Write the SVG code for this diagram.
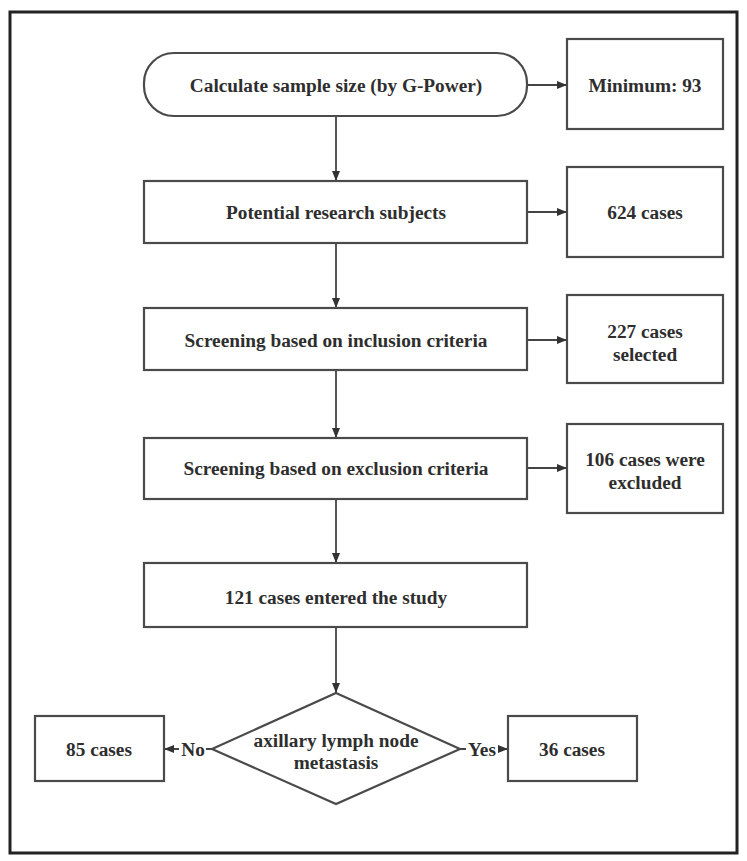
<svg xmlns="http://www.w3.org/2000/svg" width="747" height="861" viewBox="0 0 747 861">
<defs>
<marker id="ah" markerWidth="10" markerHeight="8" refX="10" refY="4" orient="auto" markerUnits="userSpaceOnUse">
<path d="M0,0 L10,4 L0,8 Z" fill="#333"/>
</marker>
<style>
.box{fill:#fff;stroke:#4a4a4a;stroke-width:2.2}
.t{font-family:'Liberation Serif','DejaVu Serif','Times New Roman',serif;font-weight:bold;font-size:19.3px;fill:#2e2e2e;text-anchor:middle;dominant-baseline:central}
.c{stroke:#444;stroke-width:1.8;fill:none;marker-end:url(#ah)}
</style>
</defs>
<rect x="0" y="0" width="747" height="861" fill="#fff"/>
<rect x="10" y="12" width="727" height="841" fill="none" stroke="#222" stroke-width="3"/>
<g id="connectors">
<line class="c" x1="527" y1="85" x2="567" y2="85"/>
<line class="c" x1="336" y1="116" x2="336" y2="181"/>
<line class="c" x1="527" y1="212" x2="567" y2="212"/>
<line class="c" x1="336" y1="243" x2="336" y2="308"/>
<line class="c" x1="527" y1="340" x2="567" y2="340"/>
<line class="c" x1="336" y1="370" x2="336" y2="438"/>
<line class="c" x1="527" y1="468" x2="567" y2="468"/>
<line class="c" x1="336" y1="499" x2="336" y2="563"/>
<line class="c" x1="336" y1="627" x2="336" y2="693"/>
<line class="c" x1="212" y1="749" x2="164" y2="749"/>
<line class="c" x1="460" y1="749" x2="508" y2="749"/>
<rect x="179" y="740" width="27" height="18" fill="#fff"/>
<text class="t" x="193" y="749">No</text>
<rect x="466" y="740" width="32" height="18" fill="#fff"/>
<text class="t" x="482" y="749">Yes</text>
</g>
<g id="start">
<rect class="box" x="144" y="53" width="383" height="63" rx="30" ry="30"/>
<text class="t" x="336" y="85">Calculate sample size (by G-Power)</text>
</g>
<g id="minimum">
<rect class="box" x="567" y="39" width="156" height="90"/>
<text class="t" x="645" y="85">Minimum: 93</text>
</g>
<g id="potential">
<rect class="box" x="144" y="181" width="383" height="62"/>
<text class="t" x="336" y="212">Potential research subjects</text>
</g>
<g id="cases624">
<rect class="box" x="567" y="167" width="156" height="90"/>
<text class="t" x="645" y="212">624 cases</text>
</g>
<g id="inclusion">
<rect class="box" x="144" y="308" width="383" height="62"/>
<text class="t" x="336" y="340">Screening based on inclusion criteria</text>
</g>
<g id="cases227">
<rect class="box" x="567" y="295" width="156" height="88"/>
<text class="t" x="645" y="331">227 cases</text>
<text class="t" x="645" y="354">selected</text>
</g>
<g id="exclusion">
<rect class="box" x="144" y="438" width="383" height="61"/>
<text class="t" x="336" y="468">Screening based on exclusion criteria</text>
</g>
<g id="cases106">
<rect class="box" x="567" y="424" width="156" height="89"/>
<text class="t" x="645" y="459">106 cases were</text>
<text class="t" x="645" y="482">excluded</text>
</g>
<g id="entered">
<rect class="box" x="144" y="563" width="383" height="64"/>
<text class="t" x="336" y="597">121 cases entered the study</text>
</g>
<g id="decision">
<polygon class="box" points="336,693 460,749 336,804 212,749"/>
<text class="t" x="336" y="740">axillary lymph node</text>
<text class="t" x="336" y="762">metastasis</text>
</g>
<g id="cases85">
<rect class="box" x="35" y="716" width="129" height="65"/>
<text class="t" x="99" y="749">85 cases</text>
</g>
<g id="cases36">
<rect class="box" x="508" y="716" width="129" height="65"/>
<text class="t" x="572" y="749">36 cases</text>
</g>
</svg>
